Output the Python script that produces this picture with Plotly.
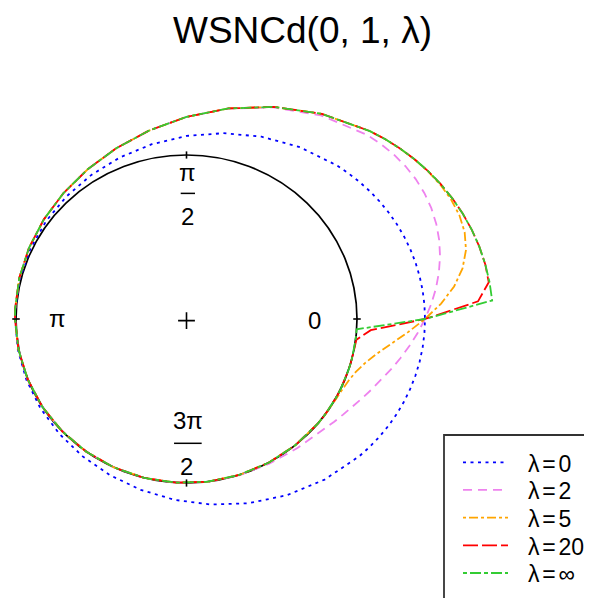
import numpy as np
import plotly.graph_objects as go

# ---------------- data ----------------
# angle of each sample (degrees, counter-clockwise from 0)
theta_deg = [-180.0, -169.2, -158.4, -147.6, -136.8, -126.0, -115.2, -104.4, -93.6, -82.8,
             -72.0, -61.2, -50.4, -39.6, -36.0, -32.4, -28.8, -25.2, -21.6, -18.0,
             -14.4, -10.8, -7.2, -3.6, 0.0, 3.6, 7.2, 10.8, 14.4, 18.0,
             21.6, 25.2, 28.8, 32.4, 36.0, 39.6, 43.2, 46.8, 57.6, 68.4,
             79.2, 90.0, 100.8, 111.6, 122.4, 133.2, 144.0, 154.8, 165.6, 176.4, 180.0]

# density values (radius of each curve = 1 + density)
dens_l0 = [0.0057, 0.0067, 0.0096, 0.0149, 0.0233, 0.0357, 0.0529, 0.0759, 0.1051, 0.1404,
           0.1811, 0.2255, 0.2710, 0.3142, 0.3275, 0.3400, 0.3516, 0.3622, 0.3716, 0.3797,
           0.3865, 0.3919, 0.3958, 0.3981, 0.3989, 0.3981, 0.3958, 0.3919, 0.3865, 0.3797,
           0.3716, 0.3622, 0.3516, 0.3400, 0.3275, 0.3142, 0.3002, 0.2858, 0.2407, 0.1956,
           0.1535, 0.1162, 0.0849, 0.0599, 0.0408, 0.0269, 0.0173, 0.0110, 0.0074, 0.0058, 0.0057]
dens_l2 = [0.0057, 0.0031, 0.0016, 0.0008, 0.0004, 0.0002, 0.0001, 0.0001, 0.0001, 0.0005,
           0.0022, 0.0074, 0.0213, 0.0524, 0.0684, 0.0877, 0.1107, 0.1373, 0.1675, 0.2011,
           0.2378, 0.2768, 0.3173, 0.3583, 0.3989, 0.4380, 0.4743, 0.5070, 0.5353, 0.5584,
           0.5756, 0.5870, 0.5925, 0.5923, 0.5866, 0.5760, 0.5610, 0.5423, 0.4707, 0.3880,
           0.3060, 0.2322, 0.1698, 0.1197, 0.0815, 0.0535, 0.0339, 0.0207, 0.0122, 0.0070, 0.0057]
dens_l5 = [0.0057, 0.0031, 0.0016, 0.0008, 0.0004, 0.0002, 0.0001, 0.0000, 0.0000, 0.0000,
           0.0000, 0.0000, 0.0000, 0.0002, 0.0006, 0.0016, 0.0042, 0.0101, 0.0221, 0.0441,
           0.0807, 0.1356, 0.2096, 0.3000, 0.3989, 0.4963, 0.5820, 0.6482, 0.6924, 0.7154,
           0.7210, 0.7142, 0.6990, 0.6784, 0.6544, 0.6282, 0.6005, 0.5716, 0.4814, 0.3913,
           0.3069, 0.2324, 0.1698, 0.1197, 0.0815, 0.0535, 0.0339, 0.0207, 0.0122, 0.0070, 0.0057]
dens_l20 = [0.0057, 0.0031, 0.0016, 0.0008, 0.0004, 0.0002, 0.0001, 0.0000, 0.0000, 0.0000,
            0.0000, 0.0000, 0.0000, 0.0000, 0.0000, 0.0000, 0.0000, 0.0000, 0.0000, 0.0000,
            0.0000, 0.0001, 0.0047, 0.0831, 0.3989, 0.7132, 0.7868, 0.7837, 0.7731, 0.7595,
            0.7431, 0.7243, 0.7032, 0.6800, 0.6550, 0.6284, 0.6005, 0.5716, 0.4814, 0.3913,
            0.3069, 0.2324, 0.1698, 0.1197, 0.0815, 0.0535, 0.0339, 0.0207, 0.0122, 0.0070, 0.0057]
dens_linf = [0.0057, 0.0031, 0.0016, 0.0008, 0.0004, 0.0002, 0.0001, 0.0000, 0.0000, 0.0000,
             0.0000, 0.0000, 0.0000, 0.0000, 0.0000, 0.0000, 0.0000, 0.0000, 0.0000, 0.0000,
             0.0000, 0.0000, 0.0000, 0.0000, 0.3989, 0.7963, 0.7916, 0.7838, 0.7731, 0.7595,
             0.7431, 0.7243, 0.7032, 0.6800, 0.6550, 0.6284, 0.6005, 0.5716, 0.4814, 0.3913,
             0.3069, 0.2324, 0.1698, 0.1197, 0.0815, 0.0535, 0.0339, 0.0207, 0.0122, 0.0070, 0.0057]

series_names = ["λ = 0", "λ = 2", "λ = 5", "λ = 20", "λ = ∞"]
series_dens = [dens_l0, dens_l2, dens_l5, dens_l20, dens_linf]

# angular tick positions on the unit circle
tick_deg = [0, 90, 180, 270]

title_text = "WSNCd(0, 1, λ)"

# ---------------- styling ----------------
colors = ["#0000FF", "#EE82EE", "#FFA500", "#FF0000", "#33CC33"]
dashes = ["3px,4.5px", "9px,6px", "3px,3px,9px,3px", "15px,4px", "4px,3px,11px,3px"]
FONT = "Liberation Sans, Arial, sans-serif"

# the page body adds an 8px offset; the figure is sized to fill the rest of the window
OFF = 8
W, H = 592 - OFF, 598 - OFF
cx_px, cy_px = 186.5 - OFF, 319.0 - OFF   # circle centre in figure pixels
sx, sy = 170.5, 164.0                     # pixels per unit
xr = [-cx_px / sx, (W - cx_px) / sx]
yr = [-(H - cy_px) / sy, cy_px / sy]

def px2paper_x(p):
    return (p - OFF) / W

def px2paper_y(p):
    return 1 - (p - OFF) / H

th = np.radians(theta_deg)

fig = go.Figure()

# density curves, radius = 1 + density
for name, dens, col, dash in zip(series_names, series_dens, colors, dashes):
    r = 1 + np.asarray(dens)
    fig.add_trace(go.Scatter(
        x=r * np.cos(th), y=r * np.sin(th), mode="lines", name=name,
        line=dict(color=col, width=1.8, dash=dash), showlegend=False,
        hoverinfo="skip"))

# ticks on the unit circle
tx, ty = [], []
for d in tick_deg:
    a = np.radians(d)
    for rr in (0.978, 1.022):
        tx.append(rr * np.cos(a))
        ty.append(rr * np.sin(a))
    tx.append(None)
    ty.append(None)
fig.add_trace(go.Scatter(x=tx, y=ty, mode="lines", line=dict(color="black", width=1.6),
                         showlegend=False, hoverinfo="skip"))

# centre mark
fig.add_trace(go.Scatter(x=[0], y=[-0.01], mode="markers",
                         marker=dict(symbol="cross-thin", size=12,
                                     line=dict(color="black", width=1.6)),
                         showlegend=False, hoverinfo="skip"))

shapes = []
# unit circle
shapes.append(dict(type="circle", xref="x", yref="y", x0=-1, y0=-1, x1=1, y1=1,
                   line=dict(color="black", width=1.7), layer="below"))
# fraction bars for pi/2 and 3pi/2
shapes.append(dict(type="line", xref="x", yref="y", x0=-0.034, x1=0.050, y0=0.766, y1=0.766,
                   line=dict(color="black", width=1.5)))
shapes.append(dict(type="line", xref="x", yref="y", x0=-0.073, x1=0.089, y0=-0.758, y1=-0.758,
                   line=dict(color="black", width=1.5)))

annotations = []
lab_font = dict(family=FONT, size=24, color="black")
def add_lab(text, x, y):
    annotations.append(dict(text=text, x=x, y=y, xref="x", yref="y", showarrow=False,
                            xanchor="center", yanchor="middle", font=lab_font))
add_lab("0", 0.748, -0.009)
add_lab("π", -0.757, 0.006)
add_lab("π", 0.003, 0.896)
add_lab("2", 0.003, 0.625)
add_lab("3π", 0.009, -0.621)
add_lab("2", 0.000, -0.901)

# legend (frame runs off the page like the reference)
shapes.append(dict(type="rect", xref="paper", yref="paper",
                   x0=px2paper_x(444), x1=px2paper_x(640),
                   y0=px2paper_y(650), y1=px2paper_y(435),
                   line=dict(color="#333333", width=1.8), fillcolor="white", layer="above"))
narrow_space = "<span style='font-size:10px'>\u00a0</span>"
row0, row_gap = 462.3, 27.67
for i, (name, col, dash) in enumerate(zip(series_names, colors, dashes)):
    yy = row0 + i * row_gap
    shapes.append(dict(type="line", xref="paper", yref="paper",
                       x0=px2paper_x(463), x1=px2paper_x(508),
                       y0=px2paper_y(yy), y1=px2paper_y(yy),
                       line=dict(color=col, width=1.8, dash=dash), layer="above"))
    annotations.append(dict(text=name.replace(" ", narrow_space), x=px2paper_x(527),
                            y=px2paper_y(yy + 1.5), xref="paper", yref="paper",
                            showarrow=False, xanchor="left", yanchor="middle", borderpad=0,
                            font=dict(family=FONT, size=23, color="black")))

fig.update_layout(
    width=W, height=H, margin=dict(l=0, r=0, t=0, b=0),
    paper_bgcolor="white", plot_bgcolor="white", showlegend=False,
    xaxis=dict(range=xr, visible=False, fixedrange=True),
    yaxis=dict(range=yr, visible=False, fixedrange=True),
    title=dict(text=title_text, x=(302.5 - OFF) / W, xanchor="center",
               y=1 - (30 - OFF) / H, yanchor="middle",
               font=dict(family=FONT, size=37, color="black")),
    shapes=shapes, annotations=annotations,
)

fig.write_html("out.html", config={"displayModeBar": False})
